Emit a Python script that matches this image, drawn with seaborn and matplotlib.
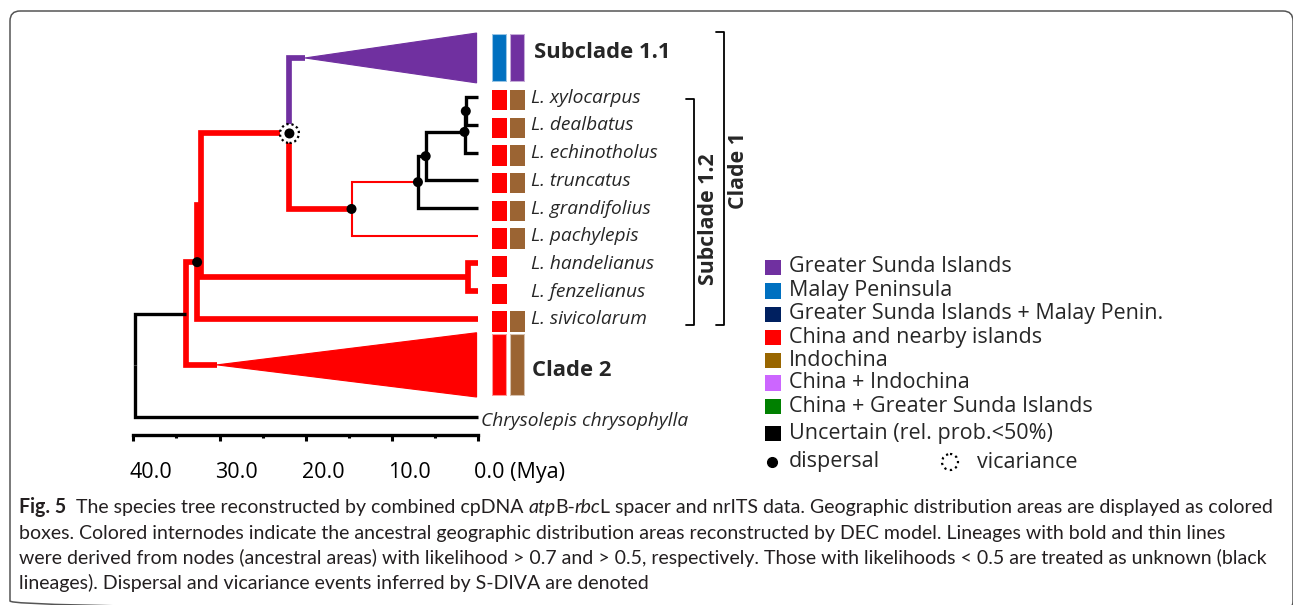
import matplotlib
matplotlib.use("Agg")
import matplotlib.pyplot as plt
import seaborn as sns
import pandas as pd
from matplotlib.transforms import Affine2D, ScaledTranslation
from matplotlib.patches import Rectangle, Polygon, FancyBboxPatch, Circle
from matplotlib.lines import Line2D

sns.set_theme(style="white")
plt.rcParams['font.family'] = ['Open Sans', 'DejaVu Sans']

# ---------------- data ----------------
tip_labels = ["Subclade 1.1", "L. xylocarpus", "L. dealbatus", "L. echinotholus", "L. truncatus",
              "L. grandifolius", "L. pachylepis", "L. handelianus", "L. fenzelianus",
              "L. sivicolarum", "Clade 2", "Chrysolepis chrysophylla"]
collapsed_clades = ["Subclade 1.1", "Clade 2"]
clade_crown_ages = [20.1, 30.3]

node_names = ["n1", "n2", "n3", "n4", "n5", "n6", "nHF", "nA", "nB", "nC", "root"]
node_ages = [1.45, 1.6, 6.1, 7.0, 14.7, 21.9, 1.15, 32.2, 32.6, 33.9, 39.8]
node_children = [["L. xylocarpus", "L. dealbatus"],
                 ["n1", "L. echinotholus"],
                 ["n2", "L. truncatus"],
                 ["n3", "L. grandifolius"],
                 ["n4", "L. pachylepis"],
                 ["Subclade 1.1", "n5"],
                 ["L. handelianus", "L. fenzelianus"],
                 ["n6", "nHF"],
                 ["nA", "L. sivicolarum"],
                 ["nB", "Clade 2"],
                 ["nC", "Chrysolepis chrysophylla"]]

# ancestral area of each branch (named by its child) and its support class
branch_names = ["Subclade 1.1", "n5", "n4", "L. pachylepis", "n3", "L. grandifolius", "n2",
                "L. truncatus", "n1", "L. echinotholus", "L. xylocarpus", "L. dealbatus",
                "n6", "nHF", "L. handelianus", "L. fenzelianus", "nA", "L. sivicolarum",
                "nB", "Clade 2", "nC", "Chrysolepis chrysophylla"]
branch_area = ["Greater Sunda Islands", "China and nearby islands", "China and nearby islands",
               "China and nearby islands", "Uncertain", "Uncertain", "Uncertain",
               "Uncertain", "Uncertain", "Uncertain", "Uncertain", "Uncertain",
               "China and nearby islands", "China and nearby islands", "China and nearby islands",
               "China and nearby islands", "China and nearby islands", "China and nearby islands",
               "China and nearby islands", "China and nearby islands", "Uncertain", "Uncertain"]
branch_support = ["bold", "bold", "thin", "thin", "unknown", "unknown", "unknown",
                  "unknown", "unknown", "unknown", "unknown", "unknown",
                  "bold", "bold", "bold", "bold", "bold", "bold",
                  "bold", "bold", "unknown", "unknown"]

dispersal_nodes = ["n1", "n2", "n3", "n4", "n5", "nB"]
vicariance_nodes = ["n6"]

# present distribution boxes (two columns) for each displayed tip
box_tips = ["Subclade 1.1", "L. xylocarpus", "L. dealbatus", "L. echinotholus", "L. truncatus",
            "L. grandifolius", "L. pachylepis", "L. handelianus", "L. fenzelianus",
            "L. sivicolarum", "Clade 2"]
box_area_1 = ["Malay Peninsula"] + ["China and nearby islands"] * 10
box_area_2 = ["Greater Sunda Islands", "Indochina", "Indochina", "Indochina", "Indochina",
              "Indochina", "Indochina", None, None, "Indochina", "Indochina"]

legend_labels = ["Greater Sunda Islands", "Malay Peninsula", "Greater Sunda Islands + Malay Penin.",
                 "China and nearby islands", "Indochina", "China + Indochina",
                 "China + Greater Sunda Islands", "Uncertain (rel. prob.<50%)"]
legend_colors = ["#7030A0", "#0070C0", "#002060", "#FF0000", "#996600", "#CC66FF",
                 "#008000", "#000000"]

axis_ticks = [40, 30, 20, 10, 0]
axis_minor_ticks = [35, 25, 15, 5]
axis_tick_labels = ["40.0", "30.0", "20.0", "10.0", "0.0 (Mya)"]

caption_lines = [
    [("Fig. 5", "bold", "normal", 2), ("The species tree reconstructed by combined cpDNA", "normal", "normal", 1),
     ("atp", "normal", "italic", 0), ("B-", "normal", "normal", 0), ("rbc", "normal", "italic", 0),
     ("L spacer and nrITS data. Geographic distribution areas are displayed as colored", "normal", "normal", 0)],
    [("boxes. Colored internodes indicate the ancestral geographic distribution areas reconstructed by DEC model. Lineages with bold and thin lines", "normal", "normal", 0)],
    [("were derived from nodes (ancestral areas) with likelihood > 0.7 and > 0.5, respectively. Those with likelihoods < 0.5 are treated as unknown (black", "normal", "normal", 0)],
    [("lineages). Dispersal and vicariance events inferred by S-DIVA are denoted", "normal", "normal", 0)],
]

# ---------------- styles / layout ----------------
area_color = {"Greater Sunda Islands": "#7030A0", "Malay Peninsula": "#0070C0",
              "China and nearby islands": "#FF0000", "Indochina": "#9B6433",
              "Uncertain": "#000000"}
support_lw = {"bold": 4.1, "thin": 1.5, "unknown": 2.4}
LEG_FS = 15.5
SP_FS = 13.8

W, H = 1293, 605
X0, KX = 478.3, 8.625      # pixel of 0 Mya, pixels per Myr
Y1, KY = 97.3, 27.7        # pixel of first species row, pixels per row

tip_row = {"Subclade 1.1": -0.42, "Clade 2": 10.66, "Chrysolepis chrysophylla": 12.54}
for i, n in enumerate(tip_labels[1:10]):
    tip_row[n] = i + 1
clade_half = {"Subclade 1.1": 0.9, "Clade 2": 1.16}

fig = plt.figure(figsize=(W / 100, H / 100), dpi=100)
ax = fig.add_axes([0, 0, 1, 1])
PX = Affine2D().scale(1.0 / W, -1.0 / H).translate(0, 1) + fig.transFigure


def row2py(r):
    return Y1 + (r - 1) * KY


# ---------------- tree ----------------
age = dict(zip(node_names, node_ages))
for t in tip_labels:
    age[t] = 0.0
age.update(dict(zip(collapsed_clades, clade_crown_ages)))
children = dict(zip(node_names, node_children))
b_area = dict(zip(branch_names, branch_area))
b_sup = dict(zip(branch_names, branch_support))

ypos = {}


def get_y(n):
    if n in ypos:
        return ypos[n]
    if n in children:
        ch = children[n]
        ypos[n] = (get_y(ch[0]) + get_y(ch[-1])) / 2
    else:
        ypos[n] = tip_row[n]
    return ypos[n]


get_y("root")

for p in node_names:
    for c in children[p]:
        col = area_color[b_area[c]]
        lw = support_lw[b_sup[c]]
        ax.plot([age[p], age[p], age[c]], [ypos[p], ypos[c], ypos[c]], color=col, lw=lw,
                solid_capstyle="butt", solid_joinstyle="miter", zorder=2)
        if c in collapsed_clades:
            h = clade_half[c]
            ax.add_patch(Polygon([(age[c], ypos[c]), (0.2, ypos[c] - h), (0.2, ypos[c] + h)],
                                 closed=True, facecolor=col, edgecolor=col, lw=0.8, zorder=2))

# vicariance (dotted circle) and dispersal (dots)
vic = pd.DataFrame({"age": [age[n] for n in vicariance_nodes], "y": [ypos[n] for n in vicariance_nodes]})
ax.scatter(vic["age"], vic["y"], s=(19 * 0.72) ** 2, facecolors="white", edgecolors="black",
           linewidths=1.6, linestyle=(0, (1, 1.3)), zorder=4)
disp = pd.DataFrame({"age": [age[n] for n in dispersal_nodes + vicariance_nodes],
                     "y": [ypos[n] for n in dispersal_nodes + vicariance_nodes]})
sns.scatterplot(data=disp, x="age", y="y", ax=ax, color="black", s=(10 * 0.72) ** 2,
                edgecolor="none", zorder=5, legend=False)

ax.set_xlim(X0 / KX, (X0 - W) / KX)
ax.set_ylim(1 + (H - Y1) / KY, 1 - Y1 / KY)
ax.axis("off")

# ---------------- boxes and labels ----------------
for n, a1, a2 in zip(box_tips, box_area_1, box_area_2):
    r = tip_row[n]
    if n in collapsed_clades:
        h = clade_half[n] * KY - 1
        py0, py1 = row2py(r) - h, row2py(r) + h
        ec = (1, 1, 1, 0.6)
    else:
        py0, py1 = row2py(r) - 7.5, row2py(r) + 13
        ec = "none"
    for x0, a in ((491.7, a1), (510, a2)):
        if a is None:
            continue
        ax.add_patch(Rectangle((x0, py0), 15, py1 - py0, transform=PX, facecolor=area_color[a],
                               edgecolor=ec, lw=1.5, zorder=3))

for n in tip_labels[1:10]:
    fig.text(531, row2py(tip_row[n]) + 0.5, n, transform=PX, va="center", ha="left",
             fontsize=SP_FS, style="italic")
fig.text(481, row2py(tip_row["Chrysolepis chrysophylla"]) + 4, "Chrysolepis chrysophylla", transform=PX,
         va="center", ha="left", fontsize=SP_FS, style="italic")
fig.text(534, 53, "Subclade 1.1", transform=PX, va="center", ha="left", fontsize=15.8,
         weight="bold")
fig.text(532, 370, "Clade 2", transform=PX, va="center", ha="left", fontsize=15.8,
         weight="bold")

# clade brackets
for xb, yt, yb in ((694, 99, 325), (724, 32, 325)):
    fig.add_artist(Line2D([xb - 8, xb, xb, xb - 8], [yt, yt, yb, yb], transform=PX,
                          color="black", lw=1.3))
fig.text(709, 219, "Subclade 1.2", transform=PX, rotation=90, va="center", ha="center",
         fontsize=15.3, weight="bold")
fig.text(738, 171, "Clade 1", transform=PX, rotation=90, va="center", ha="center",
         fontsize=15.3, weight="bold")

# ---------------- legend ----------------
leg_y = [267, 290.5, 314, 337, 360, 382.5, 406, 433]
for lab, col, y in zip(legend_labels, legend_colors, leg_y):
    fig.add_artist(Rectangle((765, y - 7.5), 15.5, 15.5, transform=PX, facecolor=col,
                             edgecolor="none"))
    fig.text(789, y, lab, transform=PX, va="center", ha="left", fontsize=LEG_FS)
fig.add_artist(Line2D([772], [462], transform=PX, marker="o", markersize=7, color="black", lw=0))
fig.text(789, 462, "dispersal", transform=PX, va="center", ha="left", fontsize=LEG_FS)
fig.add_artist(Circle((950, 462), 8, transform=PX, fill=False, edgecolor="black",
                      lw=1.6, linestyle=(0, (1, 1.6))))
fig.text(977, 462, "vicariance", transform=PX, va="center", ha="left", fontsize=LEG_FS)

# ---------------- time axis ----------------
sax = fig.add_axes([133.3 / W, (H - 435) / H, (478.3 - 133.3) / W, 0.001])
sax.set_xlim(40, 0)
sax.set_facecolor("none")
for s in ("top", "left", "right"):
    sax.spines[s].set_visible(False)
sax.spines["bottom"].set_linewidth(2.4)
sax.spines["bottom"].set_color("black")
sax.set_yticks([])
sax.set_xticks(axis_ticks)
sax.set_xticks(axis_minor_ticks, minor=True)
sax.set_xticklabels(axis_tick_labels)
sax.tick_params(axis="x", which="major", bottom=True, direction="out", length=4.5, width=2.2,
                color="black", pad=15, labelsize=LEG_FS, labelcolor="black")
sax.tick_params(axis="x", which="minor", bottom=True, direction="out", length=2, width=2.2,
                color="black")
for lbl in sax.get_xticklabels():
    lbl.set_horizontalalignment("left")
    lbl.set_transform(lbl.get_transform() + ScaledTranslation(-4 / 100, 0, fig.dpi_scale_trans))

# ---------------- frame ----------------
fig.add_artist(FancyBboxPatch((10, 11), 1283, 600, transform=PX,
                              boxstyle="round,pad=0,rounding_size=10",
                              facecolor="none", edgecolor="#555555", lw=1.1))

# ---------------- caption ----------------
renderer = fig.canvas.get_renderer()
cap_family = ["Lato", "DejaVu Sans"]


def text_w(s, size, weight, style):
    t = fig.text(0, 0, s, fontsize=size, weight=weight, style=style, family=cap_family)
    w = t.get_window_extent(renderer).width
    t.remove()
    if style == "italic":
        w -= 0.05 * size
    return w


def space_w(size):
    return text_w("a a", size, "normal", "normal") - text_w("aa", size, "normal", "normal")


def line_width(runs, size):
    total = 0
    sw = space_w(size)
    for txt, wt, st, sp in runs:
        total += text_w(txt, size, wt, st) + sp * sw
    return total


base = 12
cap_size = base * 1251 / line_width(caption_lines[0], base)
sw = space_w(cap_size)
for i, runs in enumerate(caption_lines):
    x = 19
    yb = 513 + i * 25.5
    for txt, wt, st, sp in runs:
        fig.text(x, yb, txt, transform=PX, fontsize=cap_size, weight=wt, style=st,
                 family=cap_family, va="baseline", ha="left", color="#231f20")
        x += text_w(txt, cap_size, wt, st) + sp * sw

fig.savefig("out.png", dpi=100)
